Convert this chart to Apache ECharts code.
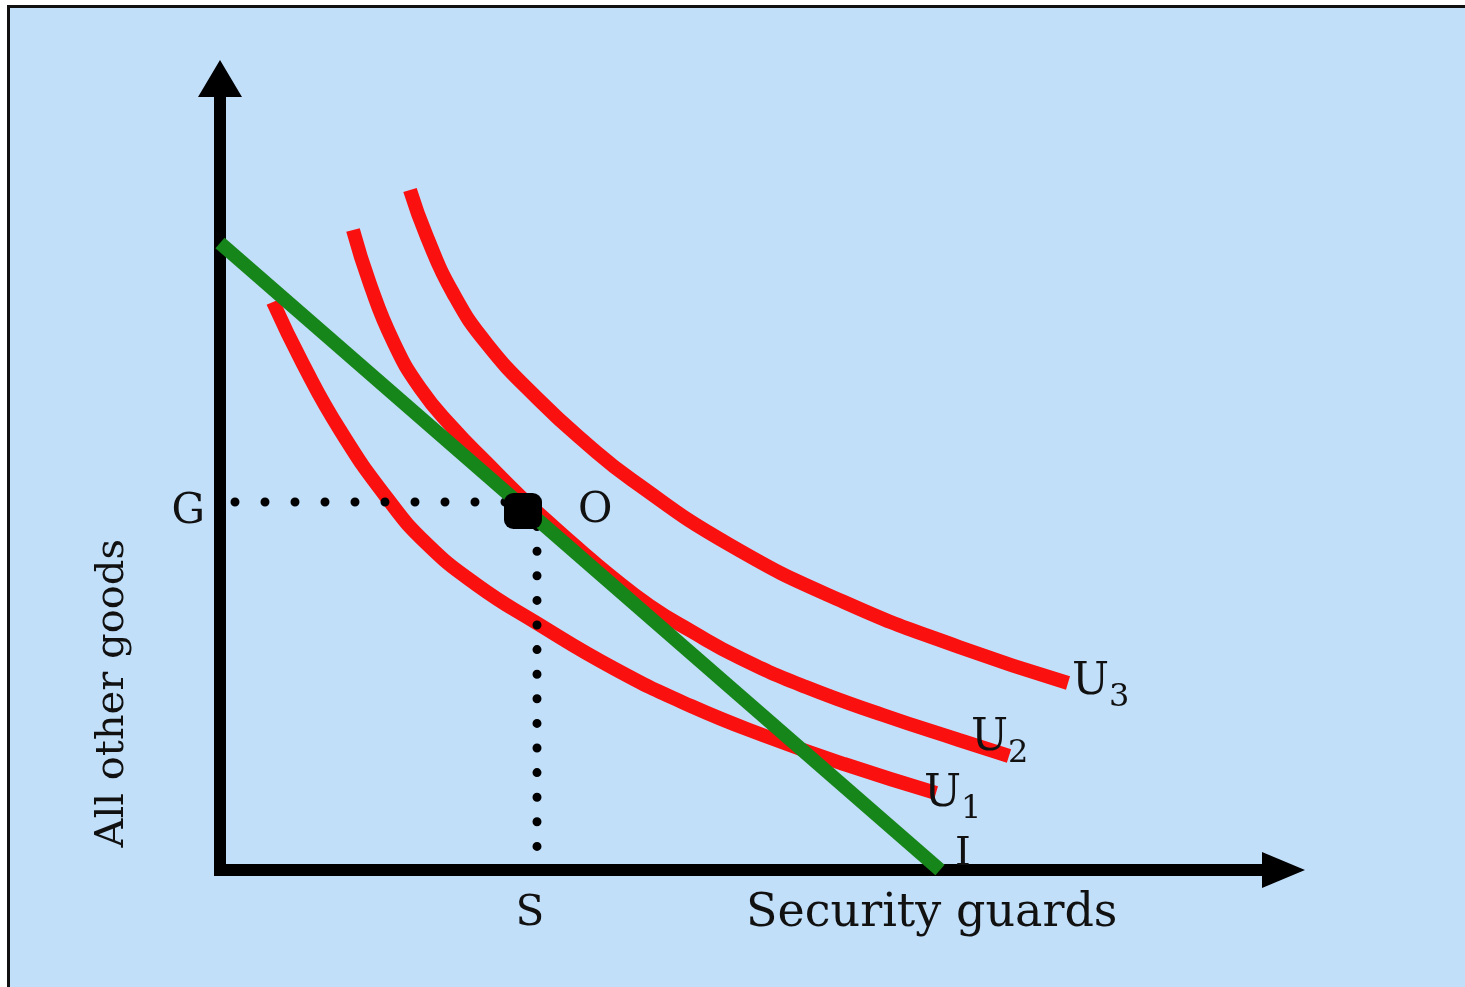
<!DOCTYPE html>
<html>
<head>
<meta charset="utf-8">
<script src="https://cdn.jsdelivr.net/npm/echarts@6/dist/echarts.min.js"></script>
<style>
html,body{margin:0;padding:0;background:#ffffff;overflow:hidden;}
#frame{position:absolute;left:7px;top:5px;width:1458px;height:982px;box-sizing:border-box;border-left:3px solid #111;border-top:3px solid #111;background:#c2dffa;}
#chart{position:absolute;left:0;top:0;width:1465px;height:987px;}
</style>
</head>
<body>
<div id="frame"></div>
<div id="chart"></div>
<script>
// ---- data ----
const budgetLine = [[0, 62.7], [72, 0]];
const curveU1 = [[5.3,56.8],[8.3,50.6],[12.0,44.0],[16.7,37.2],[20.7,32.6],[25.7,28.5],[31.5,24.8],[39.5,20.1],[47.1,16.4],[54.8,13.3],[62.4,10.6],[71.6,7.7]];
const curveU2 = [[13.3,64.0],[15.0,58.6],[17.3,52.9],[20.0,48.2],[23.3,44.2],[26.7,40.7],[30.0,37.4],[33.5,34.2],[36.0,32.0],[38.7,29.7],[43.0,26.4],[47.1,23.9],[52.0,21.2],[58.6,18.3],[66.3,15.5],[73.9,13.0],[78.9,11.4]];
const curveU3 = [[19.0,68.0],[20.7,63.3],[23.3,57.7],[26.7,52.6],[31.7,47.2],[36.7,42.6],[41.2,39.0],[51.0,32.5],[62.4,26.8],[73.9,22.3],[84.8,18.7]];
const gLevel = 36.8;
const sLevel = 31.7;
const optimumPoint = [30.3, 35.9];
const curveNames = ['U1', 'U2', 'U3'];
const xTickLabels = ['S'];
const yTickLabels = ['G'];
const pointLabel = 'O';
const budgetLabel = 'I';
const xAxisName = 'Security guards';
const yAxisName = 'All other goods';

const FONT = 'DejaVu Serif';
const RED = '#fb1010';
const GREEN = '#17861a';

const chart = echarts.init(document.getElementById('chart'), null, {renderer: 'canvas'});

function uLabel(name, offset) {
  return {
    show: true,
    distance: 4,
    offset: offset,
    formatter: '{u|' + name.charAt(0) + '}{s|' + name.slice(1) + '}',
    rich: {
      u: {fontFamily: FONT, fontSize: 44, color: '#111', lineHeight: 44},
      s: {fontFamily: FONT, fontSize: 32, color: '#111', lineHeight: 32, padding: [30, 0, 0, 0]}
    }
  };
}

function curveSeries(name, data, offset) {
  return {
    type: 'line', name: name, data: data,
    smooth: 0.5, showSymbol: false, silent: true,
    lineStyle: {color: RED, width: 14, cap: 'butt'},
    endLabel: uLabel(name, offset),
    z: 2
  };
}

const option = {
  animation: false,
  backgroundColor: 'transparent',
  grid: {left: 220, right: 181.5, top: 78.5, bottom: 117, containLabel: false},
  xAxis: {
    type: 'value', min: 0, max: 106.35,
    splitLine: {show: false},
    axisTick: {show: false},
    axisLine: {show: true, onZero: false, symbol: ['none', 'triangle'], symbolSize: [36, 43],
      lineStyle: {color: '#000', width: 12, cap: 'square'}},
    axisLabel: {
      customValues: [sLevel],
      formatter: () => xTickLabels[0],
      margin: 23, padding: [0, 14, 0, 0],
      fontFamily: FONT, fontSize: 42, color: '#111'
    },
    name: xAxisName, nameLocation: 'middle', nameGap: 21, nameMoveOverlap: false,
    nameTextStyle: {fontFamily: FONT, fontSize: 46, color: '#111', padding: [0, 0, 0, 360]}
  },
  yAxis: {
    type: 'value', min: 0, max: 79.15,
    splitLine: {show: false},
    axisTick: {show: false},
    axisLine: {show: true, onZero: false, symbol: ['none', 'triangle'], symbolSize: [44, 37],
      lineStyle: {color: '#000', width: 12, cap: 'square'}},
    axisLabel: {
      customValues: [gLevel],
      formatter: () => yTickLabels[0],
      margin: 15, verticalAlign: 'top', lineHeight: 20,
      fontFamily: FONT, fontSize: 42, color: '#111'
    },
    name: yAxisName, nameLocation: 'middle', nameGap: 87, nameMoveOverlap: false,
    nameTextStyle: {fontFamily: FONT, fontSize: 40, color: '#111', padding: [0, 438, 0, 0]}
  },
  series: [
    curveSeries(curveNames[0], curveU1, [-16, 2]),
    curveSeries(curveNames[1], curveU2, [-42, -17]),
    curveSeries(curveNames[2], curveU3, [0, 0]),
    {
      type: 'line', data: [[0, gLevel], [sLevel, gLevel]], showSymbol: false, silent: true,
      lineStyle: {color: '#000', width: 9, type: [0, 30], dashOffset: 15, cap: 'round'}, z: 3
    },
    {
      type: 'line', data: [[sLevel, gLevel], [sLevel, 0]], showSymbol: false, silent: true,
      lineStyle: {color: '#000', width: 9, type: [0, 24.6], dashOffset: 0, cap: 'round'}, z: 3
    },
    {
      type: 'line', data: budgetLine, showSymbol: false, silent: true,
      lineStyle: {color: GREEN, width: 14, cap: 'butt'},
      endLabel: {show: true, formatter: budgetLabel, distance: 4, offset: [11, -15],
        fontFamily: FONT, fontSize: 40, color: '#111'},
      z: 4
    },
    {
      type: 'scatter', data: [optimumPoint], symbol: 'roundRect', symbolSize: [38, 36], silent: true,
      itemStyle: {color: '#000', opacity: 1},
      label: {show: true, position: 'right', distance: 36, formatter: pointLabel,
        fontFamily: FONT, fontSize: 42, color: '#111', opacity: 1},
      z: 5
    }
  ]
};
chart.setOption(option);
</script>
</body>
</html>
